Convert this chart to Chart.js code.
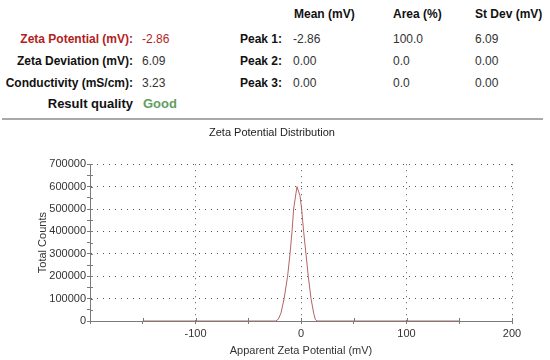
<!DOCTYPE html>
<html><head><meta charset="utf-8">
<script src="https://cdn.jsdelivr.net/npm/chart.js@4"></script>
<style>
body{margin:0;width:550px;height:360px;background:#fff;position:relative;overflow:hidden;font-family:Arial,"Liberation Sans",sans-serif;}
.t{position:absolute;font-size:12px;line-height:14px;white-space:nowrap;color:#333}
.b{font-weight:bold;color:#111}
.rt{text-align:right;right:417px}
.red{color:#b01e1e}
.big{font-size:13px;line-height:16px}
.green{color:#5fa05f}
#rule{position:absolute;left:2px;top:118px;width:541px;height:2px;background:#a9a9a9}
#wrap{position:absolute;left:0;top:120px;width:550px;height:240px}
</style></head><body>
<div class="t b" style="left:294px;top:7px">Mean (mV)</div>
<div class="t b" style="left:393px;top:7px">Area (%)</div>
<div class="t b" style="left:475px;top:7px">St Dev (mV)</div>

<div class="t b rt red" style="top:32px">Zeta Potential (mV):</div>
<div class="t red" style="left:142px;top:32px">-2.86</div>
<div class="t b rt" style="top:54px">Zeta Deviation (mV):</div>
<div class="t" style="left:142px;top:54px">6.09</div>
<div class="t b rt" style="top:76px">Conductivity (mS/cm):</div>
<div class="t" style="left:142px;top:76px">3.23</div>
<div class="t b rt big" style="top:96px">Result quality</div>
<div class="t b big green" style="left:143px;top:96px">Good</div>

<div class="t b" style="left:240px;top:32px">Peak 1:</div>
<div class="t" style="left:293px;top:32px">-2.86</div>
<div class="t" style="left:393px;top:32px">100.0</div>
<div class="t" style="left:475px;top:32px">6.09</div>
<div class="t b" style="left:240px;top:54px">Peak 2:</div>
<div class="t" style="left:293px;top:54px">0.00</div>
<div class="t" style="left:393px;top:54px">0.0</div>
<div class="t" style="left:475px;top:54px">0.00</div>
<div class="t b" style="left:240px;top:76px">Peak 3:</div>
<div class="t" style="left:293px;top:76px">0.00</div>
<div class="t" style="left:393px;top:76px">0.0</div>
<div class="t" style="left:475px;top:76px">0.00</div>

<div id="rule"></div>
<div id="wrap"><canvas id="c" width="550" height="240"></canvas></div>
<script>
const zetaMv = [-150, -24, -21.5, -19, -16, -12.7, -10.4, -8.5, -7, -3.8, -1, 0.6, 2.5, 4.7, 6.9, 9.5, 12, 13.5, 15, 150];
const totalCounts = [0, 0, 8000, 35000, 100000, 200000, 300000, 400000, 500000, 600000, 560000, 500000, 400000, 300000, 200000, 100000, 35000, 8000, 0, 0];
const xLabelTicks = [-100, 0, 100, 200];
const yLabelStep = 100000;

const points = zetaMv.map((x, i) => ({x: x, y: totalCounts[i]}));
const FONT = {family: 'Arial, "Liberation Sans", sans-serif', size: 11, weight: 'normal'};
const GRID = '#555';
const AXIS = '#7a7a7a';

const crossTicks = {
  id: 'crossTicks',
  afterDraw(chart) {
    const ctx = chart.ctx;
    const xs = chart.scales.x, ys = chart.scales.y;
    ctx.save();
    ctx.strokeStyle = AXIS;
    ctx.lineWidth = 1;
    ctx.beginPath();
    xs.ticks.forEach(t => {
      const px = Math.round(xs.getPixelForValue(t.value)) + 0.5;
      ctx.moveTo(px, ys.bottom - 3); ctx.lineTo(px, ys.bottom);
    });
    ys.ticks.forEach(t => {
      const py = Math.round(ys.getPixelForValue(t.value)) + 0.5;
      ctx.moveTo(xs.left, py); ctx.lineTo(xs.left + 3, py);
    });
    ctx.stroke();
    ctx.restore();
  }
};

new Chart(document.getElementById('c'), {
  type: 'scatter',
  data: {datasets: [{
    data: points,
    showLine: true,
    borderColor: '#b46464',
    borderWidth: 1,
    pointRadius: 0,
    tension: 0
  }]},
  options: {
    responsive: false,
    animation: false,
    layout: {padding: {left: 32, right: 38, top: 0, bottom: 0}},
    plugins: {
      legend: {display: false},
      tooltip: {enabled: false},
      title: {display: true, text: 'Zeta Potential Distribution', color: '#222', font: FONT, padding: {top: 6, bottom: 25}}
    },
    scales: {
      x: {
        type: 'linear', min: -200, max: 200,
        afterFit(s) { s.height = 39; },
        ticks: {stepSize: 50, autoSkip: false, maxRotation: 0, color: '#333', font: FONT, padding: 3,
          callback: v => xLabelTicks.includes(v) ? String(v) : ''},
        grid: {
          color: c => (c.tick && xLabelTicks.includes(c.tick.value)) ? GRID : 'rgba(0,0,0,0)',
          tickColor: AXIS, tickLength: 3, lineWidth: 1
        },
        border: {display: true, color: AXIS, width: 1, dash: [1, 5]},
        title: {display: true, text: 'Apparent Zeta Potential (mV)', color: '#333', font: FONT, padding: {top: 3, bottom: 2}}
      },
      y: {
        min: 0, max: 700000,
        afterFit(s) { s.width = 58; },
        ticks: {stepSize: 50000, autoSkip: false, color: '#333', font: FONT, padding: 1,
          callback: v => (v % yLabelStep === 0) ? String(v) : ''},
        grid: {
          color: c => (c.tick && c.tick.value % yLabelStep === 0 && c.tick.value !== 0) ? GRID : 'rgba(0,0,0,0)',
          tickColor: AXIS, tickLength: 3, lineWidth: 1
        },
        border: {display: true, color: AXIS, width: 1, dash: [1, 5]},
        title: {display: true, text: 'Total Counts', color: '#333', font: FONT, padding: {top: 4, bottom: 4}}
      }
    }
  },
  plugins: [crossTicks]
});
</script>
</body></html>
